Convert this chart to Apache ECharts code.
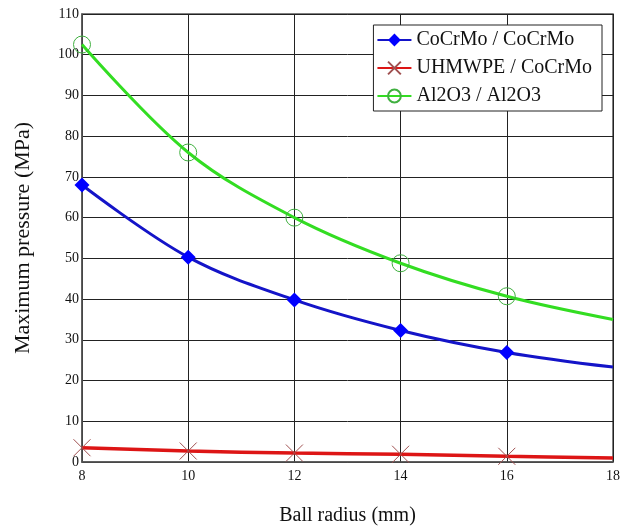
<!DOCTYPE html>
<html>
<head>
<meta charset="utf-8">
<script src="https://cdn.jsdelivr.net/npm/echarts@6/dist/echarts.min.js"></script>
<style>
html,body{margin:0;padding:0;background:#fff;}
#chart{width:634px;height:528px;}
</style>
</head>
<body>
<div id="chart"></div>
<script>
var radius = [8, 10, 12, 14, 16, 18];
var cocrmo = [68, 50.3, 39.8, 32.3, 26.9, 23.3];
var uhmwpe = [3.5, 2.7, 2.2, 1.9, 1.4, 1.0];
var al2o3 = [102.5, 76, 60, 48.8, 40.7, 35];
var seriesNames = ['CoCrMo / CoCrMo', 'UHMWPE / CoCrMo', 'Al2O3 / Al2O3'];
var yTicks = [0, 10, 20, 30, 40, 50, 60, 70, 80, 90, 100, 110];
var xTicks = [8, 10, 12, 14, 16, 18];

function pts(vals) {
  return radius.map(function (r, i) {
    var p = { value: [r, vals[i]] };
    if (r === 18) p.symbol = 'none';
    return p;
  });
}
var serif = 'Liberation Serif, Times New Roman, serif';
var chart = echarts.init(document.getElementById('chart'));
chart.setOption({
  animation: false,
  backgroundColor: '#fff',
  grid: { left: 82, right: 21, top: 14, bottom: 66, outerBoundsMode: 'none', containLabel: false,
    show: true, borderColor: '#555', borderWidth: 1.5, backgroundColor: 'transparent' },
  legend: {
    right: 32, top: 25,
    orient: 'vertical',
    backgroundColor: '#fff',
    borderColor: '#222', borderWidth: 1,
    padding: [5, 10, 5, 3],
    itemGap: 8,
    itemWidth: 34, itemHeight: 16,
    textStyle: { fontFamily: serif, fontSize: 20, color: '#111' },
    data: seriesNames
  },
  xAxis: {
    type: 'value', min: 8, max: 18, interval: 2,
    name: 'Ball radius (mm)', nameLocation: 'middle', nameGap: 44,
    nameTextStyle: { fontFamily: serif, fontSize: 20, color: '#111' },
    axisLine: { lineStyle: { color: '#555', width: 1.5 } },
    axisTick: { show: false },
    axisLabel: { fontFamily: serif, fontSize: 14, color: '#111', margin: 7,
      formatter: function (v) { return xTicks.indexOf(v) >= 0 ? String(v) : ''; } },
    splitLine: { show: true, lineStyle: { color: '#222', width: 1 } }
  },
  yAxis: {
    type: 'value', min: 0, max: 110, interval: 10,
    name: 'Maximum pressure (MPa)', nameLocation: 'middle', nameGap: 48,
    nameTextStyle: { fontFamily: serif, fontSize: 22, color: '#111' },
    axisLine: { show: true, lineStyle: { color: '#555', width: 1.5 } },
    axisTick: { show: false },
    axisLabel: { fontFamily: serif, fontSize: 14, color: '#111', margin: 3,
      formatter: function (v) { return yTicks.indexOf(v) >= 0 ? String(v) : ''; } },
    splitLine: { show: true, lineStyle: { color: '#222', width: 1 } }
  },
  series: [
    {
      name: seriesNames[0], type: 'line', smooth: 0.35, data: pts(cocrmo),
      symbol: 'diamond', symbolSize: 15,
      lineStyle: { color: '#1414c8', width: 3 },
      itemStyle: { color: '#0000ff' }
    },
    {
      name: seriesNames[1], type: 'line', smooth: 0.35, data: pts(uhmwpe),
      symbol: 'path://M0,0L10,10M10,0L0,10', symbolSize: 17, symbolKeepAspect: true,
      lineStyle: { color: '#dd1515', width: 3.5 },
      itemStyle: { color: 'rgba(0,0,0,0)', borderColor: '#a05050', borderWidth: 1 }
    },
    {
      name: seriesNames[2], type: 'line', smooth: 0.35, data: pts(al2o3),
      symbol: 'circle', symbolSize: 17,
      lineStyle: { color: '#33dd22', width: 3 },
      itemStyle: { color: 'rgba(0,0,0,0)', borderColor: '#40b040', borderWidth: 1 }
    }
  ]
});
</script>
</body>
</html>
